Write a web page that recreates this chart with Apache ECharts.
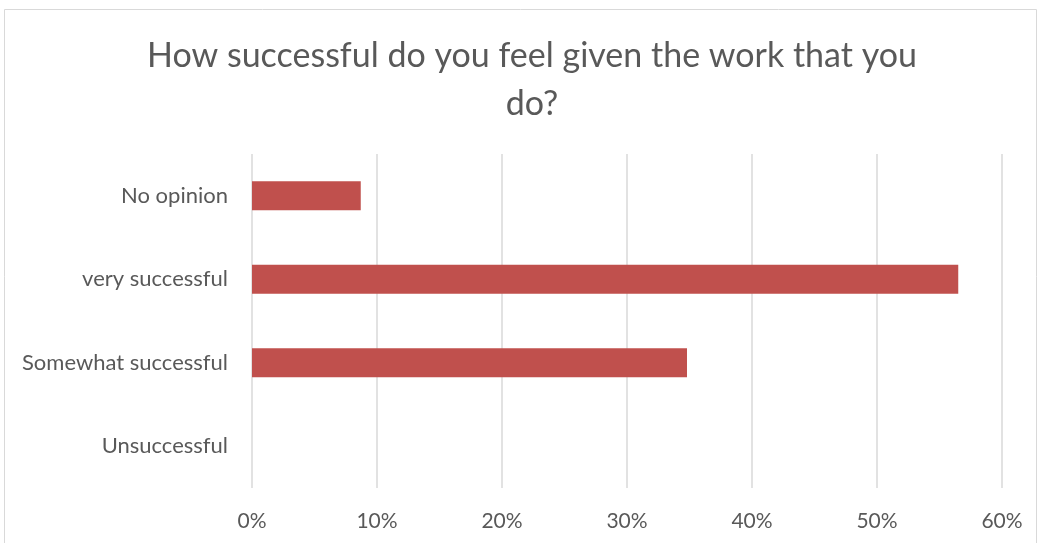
<!DOCTYPE html>
<html>
<head>
<meta charset="utf-8">
<script src="https://cdn.jsdelivr.net/npm/echarts@6/dist/echarts.min.js"></script>
<style>
  html, body { margin: 0; padding: 0; background: #ffffff; }
  #chart { width: 1039px; height: 543px; }
</style>
</head>
<body>
<div id="chart"></div>
<script>
// Survey responses, bottom-to-top order on the category axis
const categories = ['Unsuccessful', 'Somewhat successful', 'very successful', 'No opinion'];
const shares = [0, 34.8, 56.5, 8.7];
const xTicks = [0, 10, 20, 30, 40, 50, 60];

const chart = echarts.init(document.getElementById('chart'));
const textColor = '#595959';
const fontFamily = 'Lato, "Open Sans", sans-serif';

chart.setOption({
  animation: false,
  title: {
    text: 'How successful do you feel given the work that you\ndo?',
    left: 527,
    textAlign: 'center',
    top: 27,
    textStyle: {
      color: textColor,
      fontFamily: fontFamily,
      fontWeight: 'normal',
      fontSize: 34,
      lineHeight: 48
    }
  },
  graphic: [{
    type: 'rect',
    shape: { x: 4.5, y: 9.5, width: 1032, height: 560 },
    style: { fill: 'none', stroke: '#d9d9d9', lineWidth: 1 },
    silent: true
  }],
  grid: { left: 252, right: 37, top: 154, bottom: 55 },
  xAxis: {
    type: 'value',
    min: xTicks[0],
    max: xTicks[xTicks.length - 1],
    interval: 10,
    axisLine: { show: false },
    axisTick: { show: false },
    splitLine: { lineStyle: { color: '#d9d9d9', width: 1.5 } },
    axisLabel: {
      formatter: v => v + '%',
      color: textColor,
      fontFamily: fontFamily,
      fontSize: 21,
      margin: 23
    }
  },
  yAxis: {
    type: 'category',
    data: categories,
    axisLine: { show: false },
    axisTick: { show: false },
    axisLabel: {
      color: textColor,
      fontFamily: fontFamily,
      fontSize: 22,
      margin: 24
    }
  },
  series: [{
    type: 'bar',
    data: shares,
    barWidth: '35%',
    itemStyle: { color: '#c0504d' }
  }]
});
</script>
</body>
</html>
